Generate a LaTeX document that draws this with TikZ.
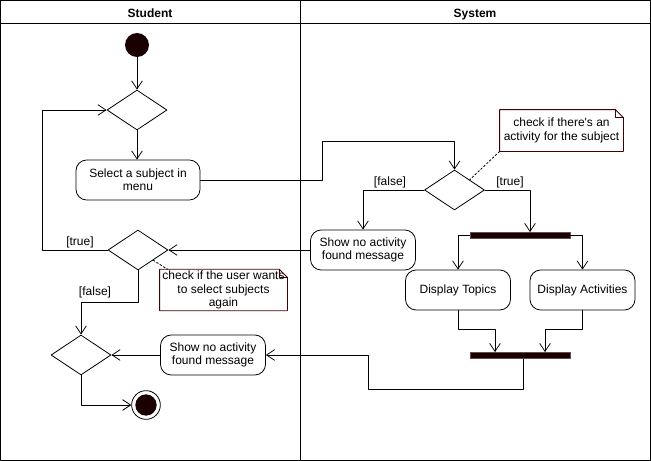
\documentclass[tikz,border=0pt]{standalone}
\usepackage{fontspec}
\setmainfont{Liberation Sans}
\usepackage{pgf,tikz}
\usetikzlibrary{arrows.meta,shapes.geometric,calc}
\definecolor{umldark}{RGB}{26,0,0}
\definecolor{notedraw}{RGB}{64,0,0}

\begin{document}
\begin{tikzpicture}[line cap=round,line join=round,>={Straight Barb[length=6pt,width=8pt]},x=0.75pt,y=-0.75pt,line width=0.6pt,
	font=\fontsize{9}{10}\selectfont,
	action/.style={draw,rectangle,rounded corners=8pt,fill=white,minimum width=78.75pt,minimum height=30pt,align=center,inner sep=2pt},
	decision/.style={draw,diamond,aspect=1.5,minimum width=45pt,minimum height=30pt,inner sep=0pt},
	bar/.style={draw=umldark!70,fill=umldark,minimum width=75pt,minimum height=4.5pt,inner sep=0pt},
	note/.style={minimum height=30pt,align=center,inner sep=1pt},
	guard/.style={inner sep=1pt},
	lane/.style={font=\fontsize{9}{10}\selectfont\bfseries,anchor=base},
	notelink/.style={dash pattern=on 1.5pt off 1.5pt}]
	\useasboundingbox (0,0) rectangle (651,461);
	\draw (0.5,0.5) rectangle (650.5,460.5);
	\draw (0.5,23) -- (650.5,23);
	\draw (300,0.5) -- (300,460.5);
	\node[lane] (hstudent) at (150,17) {Student};
	\node[lane] (hsystem) at (475,17) {System};

	\node[circle,fill=umldark,minimum size=18pt,inner sep=0pt] (start) at (137,45) {};
	\node[decision] (d1) at (137,110) {};
	\node[action,minimum width=93pt] (sel) at (138,180) {Select a subject in\\menu};
	\node[decision] (d2) at (454.5,190) {};
	\node[note,minimum width=92.25pt,minimum height=30.75pt] (note1) at (561.5,130.5) {check if there\textquotesingle s an\\activity for the subject};
	\node[guard] (gfalse1) at (390,182) {[false]};
	\node[guard] (gtrue1) at (510,182) {[true]};
	\node[action] (shows) at (363,250) {Show no activity\\found message};
	\node[bar] (fork) at (520,235.5) {};
	\node[action] (topics) at (458,290) {Display Topics};
	\node[action] (acts) at (582.5,290) {Display Activities};
	\node[bar] (join) at (520,355.5) {};
	\node[decision] (d4) at (138,250) {};
	\node[note,minimum width=95.25pt] (note2) at (223.5,290) {check if the user wants\\to select subjects\\again};
	\node[guard] (gtrue2) at (80,242) {[true]};
	\node[guard] (gfalse2) at (95,292) {[false]};
	\node[action] (showu) at (213,355) {Show no activity\\found message};
	\node[decision] (d3) at (81,355) {};
	\node[circle,draw,minimum size=21.5pt,inner sep=0pt,path picture={\fill[umldark] (path picture bounding box.center) circle (8pt);}] (final) at (146,405) {};

	\foreach \n in {note1,note2}{
		\draw[notedraw] (\n.north west) -- ([xshift=-6pt]\n.north east) -- ([yshift=-6pt]\n.north east) -- (\n.south east) -- (\n.south west) -- cycle;
		\draw[notedraw] ([xshift=-6pt]\n.north east) |- ([yshift=-6pt]\n.north east);
	}

	\draw[->] (start) -- (d1);
	\draw[->] (d1.south) -- (d1.south |- sel.north);
	\draw[->] (sel.east) -| (322,141) -| (d2.north);
	\draw[->] (d2.west) -| (shows.north);
	\draw[->] (d2.east) -| ($(fork.north)+(10,0)$);
	\draw[->] (fork.west) -| (topics.north);
	\draw[->] (fork.east) -| (acts.north);
	\draw[->] (topics.south) -- ++(0,19) -| ($(join.north)+(-25,0)$);
	\draw[->] (acts.south) -- ++(0,19) -| ($(join.north)+(25,0)$);
	\draw[->] ($(join.south)+(3,0)$) |- (368,389) |- (showu.east);
	\draw[->] (showu.west) -- (d3.east);
	\draw[->] (d3.south) |- (final.west);
	\draw[->] (shows.west) -- (d4.east);
	\draw[->] (d4.west) -- (42,250) |- (d1.west);
	\draw[->] (d4.south) -- ++(0,32) -| (d3.north);
	\draw[notelink] (note1.south west) -- (d2.north east);
	\draw[notelink] (d4.south east) -- ($(note2.north west)+(8,0)$);
\end{tikzpicture}
\end{document}
